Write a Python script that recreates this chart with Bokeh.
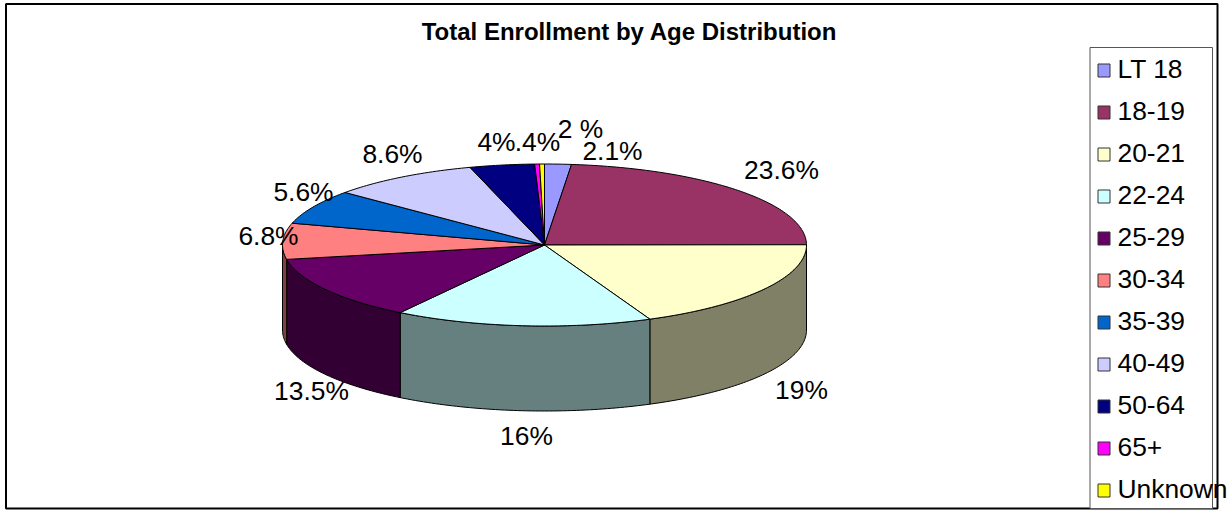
import numpy as np
from bokeh.plotting import figure
from bokeh.models import Range1d, ColumnDataSource
from bokeh.core.properties import value
from bokeh.embed import file_html
from bokeh.resources import INLINE

# ---- data ----
chart_title = "Total Enrollment by Age Distribution"
categories = ["LT 18", "18-19", "20-21", "22-24", "25-29", "30-34", "35-39", "40-49", "50-64", "65+", "Unknown"]
# share of the drawn pie each slice takes (measured from the slice edges, in percent)
slice_shares = [1.65, 23.35, 18.5, 15.9, 12.9, 7.2, 6.9, 9.2, 4.0, 0.3, 0.3]
# printed data labels
slice_labels = ["2.1%", "23.6%", "19%", "16%", "13.5%", "6.8%", "5.6%", "8.6%", "4%", ".4%", "2 %"]

# ---- styles ----
top_colors = ["#9999FF", "#993366", "#FFFFCC", "#CCFFFF", "#660066", "#FF8080", "#0066CC", "#CCCCFF", "#000080", "#FF00FF", "#FFFF00"]
side_colors = ["#4D4D80", "#4D1A33", "#808066", "#668080", "#330033", "#804040", "#003366", "#666680", "#000040", "#800080", "#808000"]

# ---- layout (page pixels) ----
W, H = 1231, 510
CX, CY, RX, RY, DEPTH = 544, 244.5, 262, 81, 85
LABEL_X = [612, 781, 801, 526, 311, 268, 303, 392, 496, 537, 580]
LABEL_Y = [150, 169, 389, 435, 390, 235, 191, 153, 141, 141, 128]
FONT = value("Liberation Sans")

p = figure(width=W, height=H, x_range=Range1d(0, W), y_range=Range1d(H, 0),
           output_backend="svg", toolbar_location=None, min_border=0,
           styles={"position": "absolute", "left": "0px", "top": "0px"})
p.axis.visible = False
p.grid.visible = False
p.outline_line_color = None
p.background_fill_color = "white"

# outer frame
p.quad(left=[5.5], right=[1217], top=[3.5], bottom=[508], fill_color=None, line_color="#000000", line_width=2)

# pie
shares = np.array(slice_shares)
edges = np.concatenate([[0], np.cumsum(shares)]) / shares.sum() * 2 * np.pi

def arc(a0, a1, dy=0.0):
    t = np.linspace(a0, a1, max(2, int((a1 - a0) / np.radians(1)) + 2))
    return CX + RX * np.sin(t), CY - RY * np.cos(t) + dy

side_xs, side_ys, side_fill = [], [], []
top_xs, top_ys = [], []
for i in range(len(shares)):
    a0, a1 = edges[i], edges[i + 1]
    x, y = arc(a0, a1)
    top_xs.append(np.concatenate([[CX], x]).tolist())
    top_ys.append(np.concatenate([[CY], y]).tolist())
    lo, hi = max(a0, np.pi / 2), min(a1, 3 * np.pi / 2)
    if hi > lo:
        sx, sy = arc(lo, hi)
        bx, by = arc(lo, hi, DEPTH)
        side_xs.append(np.concatenate([sx, bx[::-1]]).tolist())
        side_ys.append(np.concatenate([sy, by[::-1]]).tolist())
        side_fill.append(side_colors[i])

p.patches(xs="xs", ys="ys", fill_color="c", line_color="#000000", line_width=1,
          source=ColumnDataSource(dict(xs=side_xs, ys=side_ys, c=side_fill)))
p.patches(xs="xs", ys="ys", fill_color="c", line_color="#000000", line_width=1,
          source=ColumnDataSource(dict(xs=top_xs, ys=top_ys, c=top_colors)))

# data labels
p.text(x=LABEL_X, y=LABEL_Y, text=slice_labels, text_font=FONT, text_font_size="26.4px",
       text_color="#000000", text_align="center", text_baseline="middle")

# title
p.text(x=[629], y=[31], text=[chart_title], text_font=FONT, text_font_size="24px", text_font_style="bold",
       text_color="#000000", text_align="center", text_baseline="middle")

# legend
LEG_Y = [70 + 42 * i for i in range(len(categories))]
p.quad(left=[1089.5], right=[1212], top=[47], bottom=[508], fill_color="white", line_color="#555555", line_width=1)
p.rect(x=[1103.5] * len(categories), y=LEG_Y, width=12, height=13, fill_color=top_colors, line_color="#333333", line_width=1)
p.text(x=[1117] * len(categories), y=[v - 2 for v in LEG_Y], text=categories, text_font=FONT, text_font_size="26.4px",
       text_color="#000000", text_align="left", text_baseline="middle")

open("out.html", "w").write(file_html(p, INLINE))
